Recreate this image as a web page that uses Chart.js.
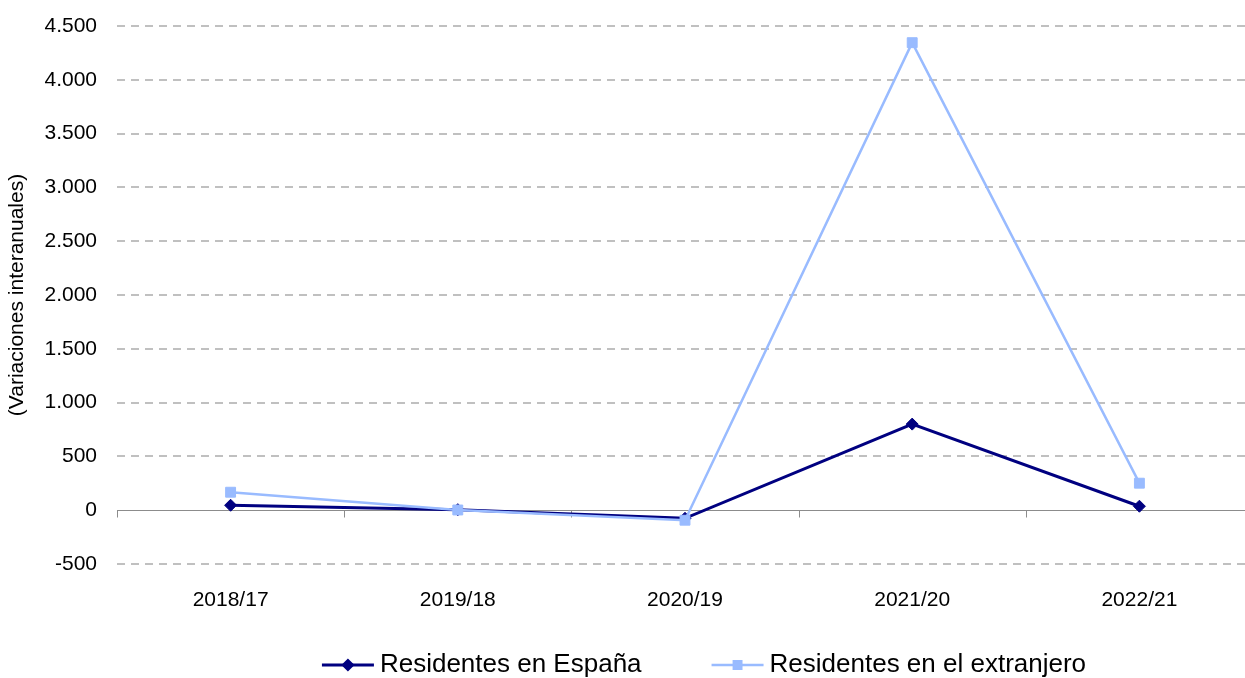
<!DOCTYPE html>
<html>
<head>
<meta charset="utf-8">
<script src="https://cdn.jsdelivr.net/npm/chart.js@4.4.1/dist/chart.umd.min.js"></script>
<style>
  html, body { margin: 0; padding: 0; background: #fff; overflow: hidden; }
  #wrap { position: relative; width: 1265px; height: 678px; }
</style>
</head>
<body>
<div id="wrap"><canvas id="chart"></canvas></div>
<script>
// data
const categories = ["2018/17", "2019/18", "2020/19", "2021/20", "2022/21"];
const espana = [46, 5, -75, 800, 37];
const extranjero = [167, 2, -93, 4345, 251];
const seriesNames = ["Residentes en España", "Residentes en el extranjero"];
const yMin = -500;
const yMax = 4500;
const yStep = 500;
const yTitle = "(Variaciones interanuales)";

const FONT = "'Liberation Sans', Arial, Helvetica, sans-serif";
const DARK = "#000080";
const LIGHT = "#99bbff";

function fmt(v) {
  const s = Math.abs(v).toString().replace(/\B(?=(\d{3})+(?!\d))/g, ".");
  return (v < 0 ? "-" : "") + s;
}

// solid zero line with category boundary ticks, drawn under the lines
const zeroLine = {
  id: "zeroLine",
  beforeDatasetsDraw(chart) {
    const { ctx, chartArea, scales } = chart;
    const y0 = Math.round(scales.y.getPixelForValue(0)) + 0.5;
    const half = (scales.x.getPixelForValue(1) - scales.x.getPixelForValue(0)) / 2;
    ctx.save();
    ctx.strokeStyle = "#8c8c8c";
    ctx.lineWidth = 1;
    ctx.beginPath();
    ctx.moveTo(chartArea.left, y0);
    ctx.lineTo(chartArea.right, y0);
    for (let i = 0; i <= categories.length; i++) {
      const x = Math.round(scales.x.getPixelForValue(i) - half) + 0.5;
      ctx.moveTo(x, y0);
      ctx.lineTo(x, y0 + 7);
    }
    ctx.stroke();
    ctx.restore();
  },
};

// legend with line + marker samples
const lineLegend = {
  id: "lineLegend",
  afterDraw(chart) {
    const { ctx } = chart;
    const y = 665;
    const lineW = 52;
    const gap = 6;
    const itemGap = 70;
    ctx.save();
    ctx.font = "26px " + FONT;
    const widths = seriesNames.map((t) => ctx.measureText(t).width);
    const total = lineW * 2 + gap * 2 + itemGap + widths[0] + widths[1];
    let x = 704 - total / 2;
    chart.data.datasets.forEach((ds, i) => {
      ctx.strokeStyle = ds.borderColor;
      ctx.lineWidth = ds.borderWidth;
      ctx.beginPath();
      ctx.moveTo(x, y);
      ctx.lineTo(x + lineW, y);
      ctx.stroke();
      Chart.helpers.drawPoint(ctx, {
        pointStyle: ds.pointStyle,
        radius: ds.pointRadius * 0.75,
        borderWidth: 1,
      }, x + lineW / 2, y);
      ctx.fillStyle = ds.pointBackgroundColor;
      ctx.strokeStyle = ds.pointBackgroundColor;
      ctx.fill();
      ctx.fillStyle = "#000";
      ctx.textBaseline = "middle";
      ctx.textAlign = "left";
      ctx.fillText(seriesNames[i], x + lineW + gap, y);
      x += lineW + gap + widths[i] + itemGap;
    });
    ctx.restore();
  },
};

new Chart(document.getElementById("chart"), {
  type: "line",
  data: {
    labels: categories,
    datasets: [
      {
        label: seriesNames[0],
        data: espana,
        borderColor: DARK,
        backgroundColor: DARK,
        pointBackgroundColor: DARK,
        pointBorderColor: DARK,
        borderWidth: 3,
        pointStyle: "rectRot",
        pointRadius: 6,
        pointBorderWidth: 1,
        order: 1,
      },
      {
        label: seriesNames[1],
        data: extranjero,
        borderColor: LIGHT,
        backgroundColor: LIGHT,
        pointBackgroundColor: LIGHT,
        pointBorderColor: LIGHT,
        borderWidth: 2.5,
        pointStyle: "rect",
        pointRadius: 7,
        pointBorderWidth: 1,
        order: 0,
      },
    ],
  },
  options: {
    responsive: true,
    maintainAspectRatio: false,
    animation: false,
    layout: { padding: { left: 0, right: 12, top: 26, bottom: 0 } },
    plugins: {
      legend: { display: false },
      tooltip: { enabled: false },
    },
    scales: {
      x: {
        offset: true,
        grid: { display: false },
        border: { display: false },
        ticks: { color: "#000", font: { family: FONT, size: 21 }, padding: 16 },
        afterFit: (scale) => { scale.height = 114; },
      },
      y: {
        min: yMin,
        max: yMax,
        ticks: {
          stepSize: yStep,
          color: "#000",
          font: { family: FONT, size: 21 },
          padding: 20,
          callback: (v) => fmt(v),
        },
        grid: {
          drawTicks: false,
          lineWidth: 2,
          color: (c) => (c.tick && c.tick.value === 0 ? "rgba(0,0,0,0)" : "#c0c0c0"),
        },
        border: { display: false, dash: [8, 6] },
        title: {
          display: true,
          text: yTitle,
          color: "#000",
          font: { family: FONT, size: 21 },
          padding: { top: 5, bottom: 0 },
        },
        afterFit: (scale) => {
          scale.width = 117;
          scale.paddingTop = 0;
          scale.paddingBottom = 0;
        },
      },
    },
  },
  plugins: [zeroLine, lineLegend],
});
</script>
</body>
</html>
